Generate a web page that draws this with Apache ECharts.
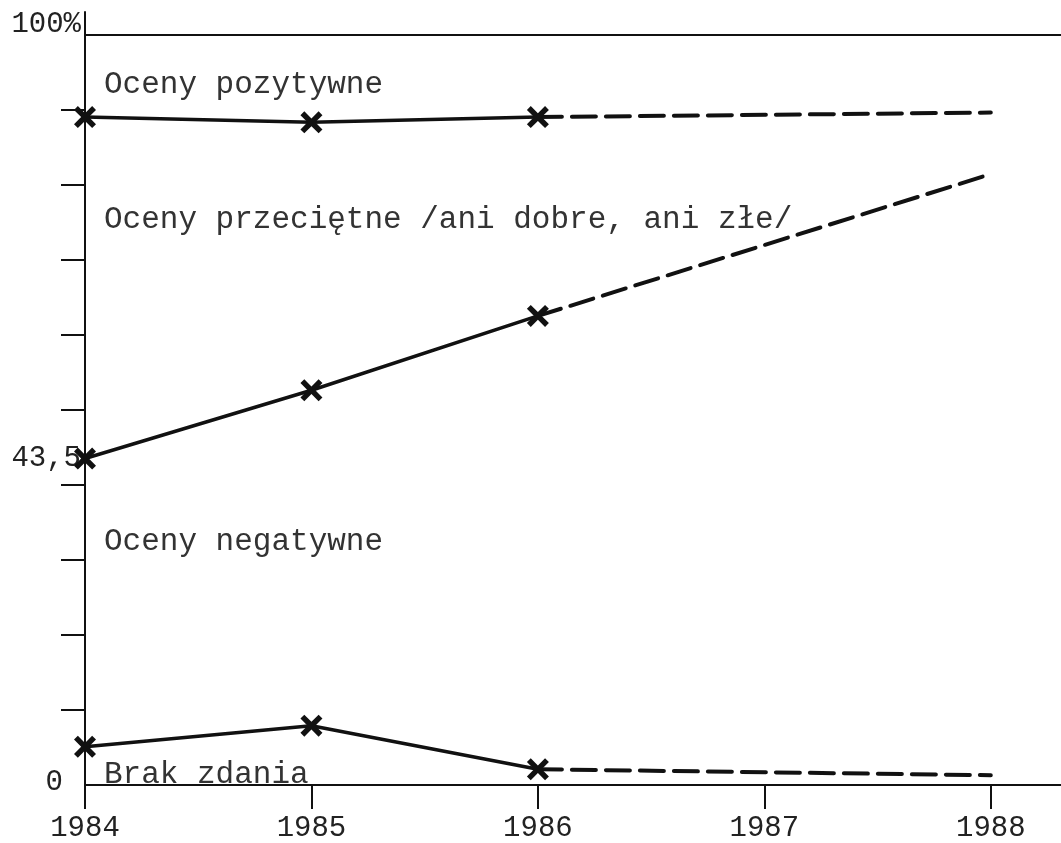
<!DOCTYPE html>
<html>
<head>
<meta charset="utf-8">
<script src="https://cdn.jsdelivr.net/npm/echarts@6/dist/echarts.min.js"></script>
<style>
  html, body { margin: 0; padding: 0; background: #fff; }
  #chart { width: 1061px; height: 843px; }
</style>
</head>
<body>
<div id="chart"></div>
<script>
// observed years and projection years
const years = [1984, 1985, 1986];
const projYears = [1986, 1988];
const yearTicks = [1984, 1985, 1986, 1987, 1988];

// upper boundary line (oceny pozytywne above it)
const pozytywne = [89.0, 88.3, 89.0];
const pozytywneProj = [89.0, 89.6];
// boundary between przeciętne and negatywne
const negatywne = [43.5, 52.6, 62.5];
const negatywneProj = [62.5, 81.4];
// brak zdania
const brakZdania = [5.1, 7.9, 2.1];
const brakZdaniaProj = [2.1, 1.3];

const yTicks = [10, 20, 30, 40, 50, 60, 70, 80, 90];
const yLabels = [0, 43.5, 100];

const areaTexts = [
  { text: 'Oceny pozytywne', top: 69 },
  { text: 'Oceny przeciętne /ani dobre, ani złe/', top: 204 },
  { text: 'Oceny negatywne', top: 526 },
  { text: 'Brak zdania', top: 759 }
];

const ink = '#111';
const font = '"Liberation Mono", "DejaVu Sans Mono", monospace';
const xMark = 'path://M0,3.5 L3.5,0 L10,6.5 L16.5,0 L20,3.5 L13.5,10 L20,16.5 L16.5,20 L10,13.5 L3.5,20 L0,16.5 L6.5,10 Z';

function pairs(xs, ys){
  return xs.map(function(x, i){ return [x, ys[i]]; });
}

function solid(vals, withTop){
  let s = {
    type: 'line',
    data: pairs(years, vals),
    symbol: xMark,
    symbolSize: 22,
    itemStyle: { color: ink },
    lineStyle: { color: ink, width: 3.5 },
    z: 3,
    animation: false
  };
  if(withTop){
    s.markLine = {
      silent: true,
      symbol: 'none',
      label: { show: false },
      lineStyle: { color: ink, width: 2, type: 'solid' },
      data: [{ yAxis: 100 }],
      animation: false
    };
  }
  return s;
}

function dashed(vals){
  return {
    type: 'line',
    data: pairs(projYears, vals),
    symbol: 'none',
    lineStyle: { color: ink, width: 4, type: [24, 10], cap: 'round' },
    z: 2,
    animation: false
  };
}

let chart = echarts.init(document.getElementById('chart'));

let options = {
  backgroundColor: '#fff',
  grid: {
    left: 85,
    right: 0,
    top: 12,
    bottom: 55,
    containLabel: false
  },
  xAxis: {
    type: 'value',
    min: 1984,
    max: 1988.31,
    interval: 1,
    axisLine: { show: true, onZero: false, lineStyle: { color: ink, width: 2 } },
    axisTick: {
      show: true,
      length: 24,
      customValues: yearTicks,
      lineStyle: { color: ink, width: 2 }
    },
    axisLabel: {
      customValues: yearTicks,
      margin: 29,
      color: '#222',
      fontFamily: font,
      fontSize: 29,
      formatter: function(v){ return String(v); }
    },
    splitLine: { show: false }
  },
  yAxis: {
    type: 'value',
    min: 0,
    max: 103,
    axisLine: { show: true, lineStyle: { color: ink, width: 2 } },
    axisTick: {
      show: true,
      length: 24,
      customValues: yTicks,
      lineStyle: { color: ink, width: 2 }
    },
    axisLabel: {
      customValues: yLabels,
      margin: 4,
      color: '#222',
      fontFamily: font,
      fontSize: 29,
      formatter: function(v){
        if(v === 100) return '{h|100%}';
        if(v === 0) return '{z|0}';
        return String(v).replace('.', ',');
      },
      rich: {
        h: { fontFamily: font, fontSize: 29, color: '#222', padding: [0, 0, 20, 0] },
        z: { fontFamily: font, fontSize: 29, color: '#222', padding: [0, 18, 6, 0] }
      }
    },
    splitLine: { show: false }
  },
  graphic: areaTexts.map(function(t){
    return {
      type: 'text',
      left: 104,
      top: t.top,
      z: 10,
      style: {
        text: t.text,
        fill: '#333',
        font: '31px ' + font
      }
    };
  }),
  series: [
    solid(pozytywne, true),
    dashed(pozytywneProj),
    solid(negatywne),
    dashed(negatywneProj),
    solid(brakZdania),
    dashed(brakZdaniaProj)
  ]
};

chart.setOption(options);
</script>
</body>
</html>
